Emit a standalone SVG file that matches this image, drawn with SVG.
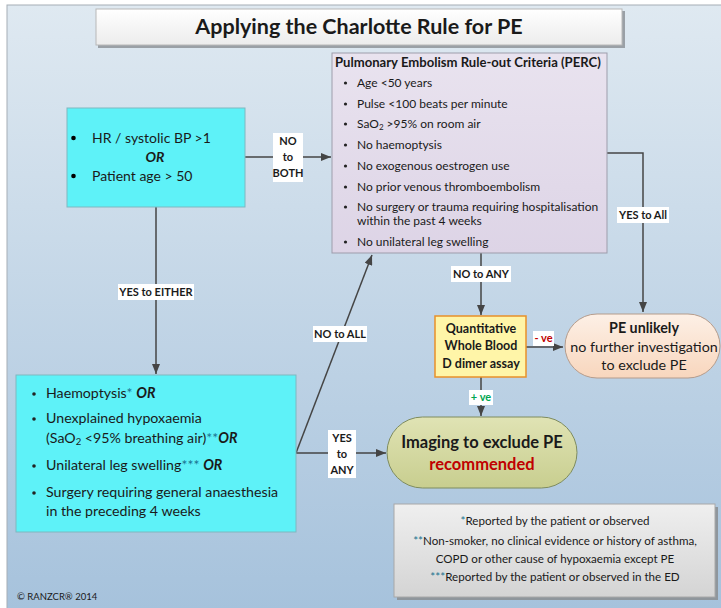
<svg xmlns="http://www.w3.org/2000/svg" width="721" height="608" viewBox="0 0 721 608">
<defs>
<linearGradient id="bg" x1="0" y1="0" x2="0" y2="1"><stop offset="0" stop-color="#dfe9f1"/><stop offset="1" stop-color="#a6c2dc"/></linearGradient>
<linearGradient id="gTitle" x1="0" y1="0" x2="0" y2="1"><stop offset="0" stop-color="#ffffff"/><stop offset="1" stop-color="#ececec"/></linearGradient>
<linearGradient id="gPerc" x1="0" y1="0" x2="0" y2="1"><stop offset="0" stop-color="#e9e3ef"/><stop offset="1" stop-color="#ddd4e6"/></linearGradient>
<linearGradient id="gImg" x1="0" y1="0" x2="0" y2="1"><stop offset="0" stop-color="#e0e3b4"/><stop offset="1" stop-color="#c8ce8f"/></linearGradient>
<linearGradient id="gUnl" x1="0" y1="0" x2="0" y2="1"><stop offset="0" stop-color="#fdf0e6"/><stop offset="1" stop-color="#f8d6bd"/></linearGradient>
<linearGradient id="gFoot" x1="0" y1="0" x2="0" y2="1"><stop offset="0" stop-color="#efefef"/><stop offset="1" stop-color="#d4d4d4"/></linearGradient>
<marker id="arr" viewBox="0 0 10 8" refX="10" refY="4" markerWidth="10" markerHeight="8" orient="auto" markerUnits="userSpaceOnUse"><path d="M0,0 L10,4 L0,8 z" fill="#454545"/></marker>
</defs>
<style>
text{font-family:Lato,"Liberation Sans",sans-serif;fill:#1a1a1a}
.b{font-weight:bold}
.lbl{font-size:11px;font-weight:bold;text-anchor:middle}
.lb{fill:#ffffff}
.ln{fill:none;stroke:#454545;stroke-width:1.5}
.perc{font-size:12px}
.bx2{font-size:14.2px}
.ast{fill:#1a7390}
.fn{font-size:11.6px;text-anchor:middle}
.c{text-anchor:middle}
</style>
<rect x="7" y="5" width="716" height="605" fill="url(#bg)" stroke="#a5adb5" stroke-width="1"/>

<g id="title">
<rect x="98" y="11" width="527" height="37" fill="#9aa0a6"/>
<rect x="96" y="9" width="526" height="36" fill="url(#gTitle)" stroke="#b8b8b8" stroke-width="1"/>
<text x="359" y="34" class="b c" font-size="21.5">Applying the Charlotte Rule for PE</text>
</g>

<g id="connectors">
<path class="ln" d="M245,157 H331" marker-end="url(#arr)"/>
<path class="ln" d="M156,207 V374" marker-end="url(#arr)"/>
<path class="ln" d="M296,453 L372,255" marker-end="url(#arr)"/>
<path class="ln" d="M296,453 H386" marker-end="url(#arr)"/>
<path class="ln" d="M481,253 V315" marker-end="url(#arr)"/>
<path class="ln" d="M526,347 H563" marker-end="url(#arr)"/>
<path class="ln" d="M481,377 V416" marker-end="url(#arr)"/>
<path class="ln" d="M607,153 H643 V312" marker-end="url(#arr)"/>
<rect class="lb" x="273" y="133" width="30" height="49"/>
<text class="lbl" x="288" y="145">NO</text><text class="lbl" x="288" y="161">to</text><text class="lbl" x="288" y="177">BOTH</text>
<rect class="lb" x="118" y="284" width="76" height="16"/>
<text class="lbl" x="156" y="296">YES to EITHER</text>
<rect class="lb" x="313" y="326" width="54" height="16"/>
<text class="lbl" x="340" y="338">NO to ALL</text>
<rect class="lb" x="328" y="430" width="28" height="48"/>
<text class="lbl" x="342" y="442">YES</text><text class="lbl" x="342" y="458">to</text><text class="lbl" x="342" y="474">ANY</text>
<rect class="lb" x="451" y="266" width="60" height="16"/>
<text class="lbl" x="481" y="278">NO to ANY</text>
<rect class="lb" x="533" y="331" width="21" height="15"/>
<text class="lbl" x="543.5" y="342" style="fill:#c00000">- ve</text>
<rect class="lb" x="469" y="390" width="24" height="15"/>
<text class="lbl" x="481" y="401" style="fill:#00a651">+ ve</text>
<rect class="lb" x="617" y="207" width="52" height="16"/>
<text class="lbl" x="643" y="219">YES to All</text>
</g>

<g id="charlotte">
<rect x="67" y="108" width="178" height="99" fill="#5ef2f8" stroke="#7fb8c0" stroke-width="1"/>
<circle cx="73.5" cy="138" r="2.3" fill="#000"/>
<circle cx="73.5" cy="176" r="2.3" fill="#000"/>
<text x="92" y="143" font-size="14">HR / systolic BP &gt;1</text>
<text x="155" y="162" font-size="14" class="b c" font-style="italic">OR</text>
<text x="92" y="181" font-size="14">Patient age &gt; 50</text>
</g>

<g id="perc">
<rect x="332" y="53" width="275" height="200" fill="url(#gPerc)" stroke="#9d9dab" stroke-width="1"/>
<text x="335" y="67" class="b" font-size="13.1">Pulmonary Embolism Rule-out Criteria (PERC)</text>
<g fill="#222">
<circle cx="345.5" cy="83" r="1.6"/><circle cx="345.5" cy="104" r="1.6"/><circle cx="345.5" cy="124" r="1.6"/><circle cx="345.5" cy="145" r="1.6"/><circle cx="345.5" cy="166" r="1.6"/><circle cx="345.5" cy="187" r="1.6"/><circle cx="345.5" cy="207" r="1.6"/><circle cx="345.5" cy="242" r="1.6"/>
</g>
<text class="perc" x="357" y="87">Age &lt;50 years</text>
<text class="perc" x="357" y="108">Pulse &lt;100 beats per minute</text>
<text class="perc" x="357" y="128">SaO<tspan font-size="8" dy="2">2</tspan><tspan dy="-2"> &gt;95% on room air</tspan></text>
<text class="perc" x="357" y="149">No haemoptysis</text>
<text class="perc" x="357" y="170">No exogenous oestrogen use</text>
<text class="perc" x="357" y="191">No prior venous thromboembolism</text>
<text class="perc" x="357" y="211">No surgery or trauma requiring hospitalisation</text>
<text class="perc" x="357" y="225">within the past 4 weeks</text>
<text class="perc" x="357" y="246">No unilateral leg swelling</text>
</g>

<g id="risk">
<rect x="16" y="375" width="280" height="157" fill="#5ef2f8" stroke="#7fb8c0" stroke-width="1"/>
<g fill="#222">
<circle cx="34" cy="394" r="1.8"/><circle cx="34" cy="419" r="1.8"/><circle cx="34" cy="466" r="1.8"/><circle cx="34" cy="493" r="1.8"/>
</g>
<text class="bx2" x="46" y="398">Haemoptysis<tspan class="ast">*</tspan> <tspan class="b" font-style="italic">OR</tspan></text>
<text class="bx2" x="46" y="423">Unexplained hypoxaemia</text>
<text class="bx2" x="46" y="443">(SaO<tspan font-size="9.5" dy="2">2</tspan><tspan dy="-2"> &lt;95% breathing air)</tspan><tspan class="ast">**</tspan><tspan class="b" font-style="italic">OR</tspan></text>
<text class="bx2" x="46" y="470">Unilateral leg swelling<tspan class="ast">***</tspan> <tspan class="b" font-style="italic">OR</tspan></text>
<text class="bx2" x="46" y="497">Surgery requiring general anaesthesia</text>
<text class="bx2" x="46" y="516">in the preceding 4 weeks</text>
</g>

<g id="ddimer">
<rect x="435" y="316" width="91" height="61" fill="#fff5a8" stroke="#e8902a" stroke-width="1.5"/>
<text x="481" y="333" class="b c" font-size="12.5">Quantitative</text>
<text x="481" y="350" class="b c" font-size="12.5">Whole Blood</text>
<text x="481" y="368" class="b c" font-size="12.5">D dimer assay</text>
</g>

<g id="unlikely">
<rect x="565" y="314" width="155" height="64" rx="32" fill="url(#gUnl)" stroke="#b59c8c" stroke-width="1"/>
<text x="644" y="333" class="b c" font-size="14.3">PE unlikely</text>
<text x="644" y="352" class="c" font-size="14.3">no further investigation</text>
<text x="644" y="370" class="c" font-size="14.3">to exclude PE</text>
</g>

<g id="imaging">
<rect x="387" y="417" width="190" height="71" rx="35.5" fill="url(#gImg)" stroke="#7f8c5e" stroke-width="1"/>
<text x="482" y="448" class="b c" font-size="16.5">Imaging to exclude PE</text>
<text x="482" y="470" class="b c" font-size="16.5" style="fill:#c00000">recommended</text>
</g>

<g id="footnotes">
<rect x="397" y="507" width="321" height="93" fill="#8f969c"/>
<rect x="394" y="504" width="321" height="93" fill="url(#gFoot)" stroke="#a8a8a8" stroke-width="1"/>
<text class="fn" x="555" y="525"><tspan class="ast">*</tspan>Reported by the patient or observed</text>
<text class="fn" x="555" y="545"><tspan class="ast">**</tspan>Non-smoker, no clinical evidence or history of asthma,</text>
<text class="fn" x="555" y="563">COPD or other cause of hypoxaemia except PE</text>
<text class="fn" x="555" y="581"><tspan class="ast">***</tspan>Reported by the patient or observed in the ED</text>
</g>

<text x="17" y="600" font-size="9.5">© RANZCR® 2014</text>
</svg>
